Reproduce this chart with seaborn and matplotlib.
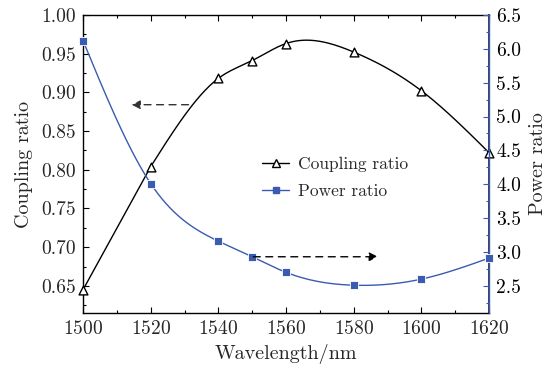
import numpy as np
import pandas as pd
import matplotlib
matplotlib.use("Agg")
import matplotlib.pyplot as plt
from matplotlib.lines import Line2D
from matplotlib.ticker import MultipleLocator
import seaborn as sns

wavelength = [1500, 1520, 1540, 1550, 1560, 1580, 1600, 1620]
coupling_ratio = [0.645, 0.804, 0.918, 0.941, 0.963, 0.952, 0.902, 0.822]
power_ratio = [6.12, 4.01, 3.16, 2.93, 2.70, 2.51, 2.60, 2.91]

x_ticks = [1500, 1520, 1540, 1560, 1580, 1600, 1620]
left_ticks = [0.65, 0.70, 0.75, 0.80, 0.85, 0.90, 0.95, 1.00]
right_ticks = [2.5, 3.0, 3.5, 4.0, 4.5, 5.0, 5.5, 6.0, 6.5]

BLUE = "#3a5bb0"


def natural_spline(x, y, n=300):
    """Smooth natural cubic spline through the measured points."""
    x = np.asarray(x, float)
    y = np.asarray(y, float)
    k = len(x)
    h = np.diff(x)
    A = np.zeros((k, k))
    b = np.zeros(k)
    A[0, 0] = A[-1, -1] = 1.0
    for i in range(1, k - 1):
        A[i, i - 1] = h[i - 1]
        A[i, i] = 2 * (h[i - 1] + h[i])
        A[i, i + 1] = h[i]
        b[i] = 6 * ((y[i + 1] - y[i]) / h[i] - (y[i] - y[i - 1]) / h[i - 1])
    m = np.linalg.solve(A, b)
    xs = np.linspace(x[0], x[-1], n)
    idx = np.clip(np.searchsorted(x, xs) - 1, 0, k - 2)
    x0, x1 = x[idx], x[idx + 1]
    hh = x1 - x0
    t0, t1 = x1 - xs, xs - x0
    ys = (m[idx] * t0 ** 3 / (6 * hh) + m[idx + 1] * t1 ** 3 / (6 * hh)
          + (y[idx] / hh - m[idx] * hh / 6) * t0
          + (y[idx + 1] / hh - m[idx + 1] * hh / 6) * t1)
    return xs, ys


sns.set_theme(style="ticks")
plt.rcParams["font.family"] = ["cmr10", "DejaVu Serif"]
plt.rcParams["axes.formatter.use_mathtext"] = True
plt.rcParams["mathtext.fontset"] = "cm"

TICK_FS = 14
LABEL_FS = 14.5

fig = plt.figure(figsize=(5.52, 3.72), dpi=100)
ax = fig.add_axes([0.1504, 0.1586, 0.7356, 0.8014])
ax2 = ax.twinx()

pts = pd.DataFrame({"wavelength": wavelength,
                    "coupling": coupling_ratio,
                    "power": power_ratio})

# coupling ratio: straight first segment, smooth curve afterwards
cx, cy = natural_spline(wavelength[1:], coupling_ratio[1:])
cx = np.concatenate([[wavelength[0]], cx])
cy = np.concatenate([[coupling_ratio[0]], cy])
sns.lineplot(x=cx, y=cy, ax=ax, color="black", lw=1.0, sort=False, zorder=2)
sns.scatterplot(data=pts, x="wavelength", y="coupling", ax=ax, marker="^",
                s=40, facecolor="white", edgecolor="black", linewidth=1.0,
                zorder=3, clip_on=False)

px, py = natural_spline(wavelength, power_ratio)
sns.lineplot(x=px, y=py, ax=ax2, color=BLUE, lw=1.0, sort=False, zorder=2)
sns.scatterplot(data=pts, x="wavelength", y="power", ax=ax2, marker="s",
                s=30, color=BLUE, edgecolor="white", linewidth=0.6,
                zorder=3, clip_on=False)

ax.set_xlim(1500, 1620)
ax.set_ylim(0.615, 1.0)
ax2.set_ylim(2.1, 6.5)

ax.set_xticks(x_ticks)
ax.set_yticks(left_ticks)
ax.set_yticklabels([f"{v:.2f}" for v in left_ticks])
ax2.set_yticks(right_ticks)
ax2.set_yticklabels([f"{v:.1f}" for v in right_ticks])
ax.xaxis.set_minor_locator(MultipleLocator(10))
ax.yaxis.set_minor_locator(MultipleLocator(0.025))
ax2.yaxis.set_minor_locator(MultipleLocator(0.25))

ax.tick_params(axis="both", which="both", direction="in",
               labelsize=TICK_FS, color="black", top=True)
ax.tick_params(which="major", length=4, width=0.8, pad=5)
ax.tick_params(which="minor", length=2.5, width=0.8)
ax.tick_params(axis="y", which="both", right=False)
ax2.tick_params(axis="y", which="both", direction="in", colors=BLUE,
                labelcolor="black", labelsize=TICK_FS)
ax2.tick_params(which="major", length=4, width=0.8, pad=5)
ax2.tick_params(which="minor", length=2.5, width=0.8)

for s in ["left", "top", "bottom"]:
    ax.spines[s].set_linewidth(1.0)
    ax.spines[s].set_color("black")
ax2.spines["right"].set_color(BLUE)
ax2.spines["right"].set_linewidth(1.0)
ax2.spines["left"].set_visible(False)
ax2.spines["top"].set_visible(False)
ax2.spines["bottom"].set_visible(False)

ax.set_xlabel("Wavelength/nm", fontsize=LABEL_FS, labelpad=4)
ax.set_ylabel("Coupling ratio", fontsize=LABEL_FS, labelpad=6)
ax2.set_ylabel("Power ratio", fontsize=LABEL_FS, labelpad=6)

# arrows pointing to the axis each curve belongs to
ax.annotate("", xy=(1513.5, 0.884), xytext=(1532, 0.884),
            arrowprops=dict(arrowstyle="-|>", linestyle=(0, (5, 4)),
                            color="#333333", lw=1.0, mutation_scale=13))
ax2.annotate("", xy=(1588, 2.93), xytext=(1549.5, 2.93),
             arrowprops=dict(arrowstyle="-|>", linestyle=(0, (5, 4)),
                             color="black", lw=1.0, mutation_scale=13))

handles = [
    Line2D([], [], color="black", lw=1.0, marker="^", markersize=6,
           markerfacecolor="white", markeredgecolor="black"),
    Line2D([], [], color=BLUE, lw=1.0, marker="s", markersize=5,
           markerfacecolor=BLUE, markeredgecolor=BLUE),
]
ax.legend(handles, ["Coupling ratio", "Power ratio"], loc="upper left",
          bbox_to_anchor=(0.41, 0.565), frameon=False, fontsize=12.5,
          handlelength=1.6, handletextpad=0.5, labelspacing=0.65,
          borderpad=0.2)
if ax2.get_legend() is not None:
    ax2.get_legend().remove()

fig.savefig("out.png", dpi=100)
